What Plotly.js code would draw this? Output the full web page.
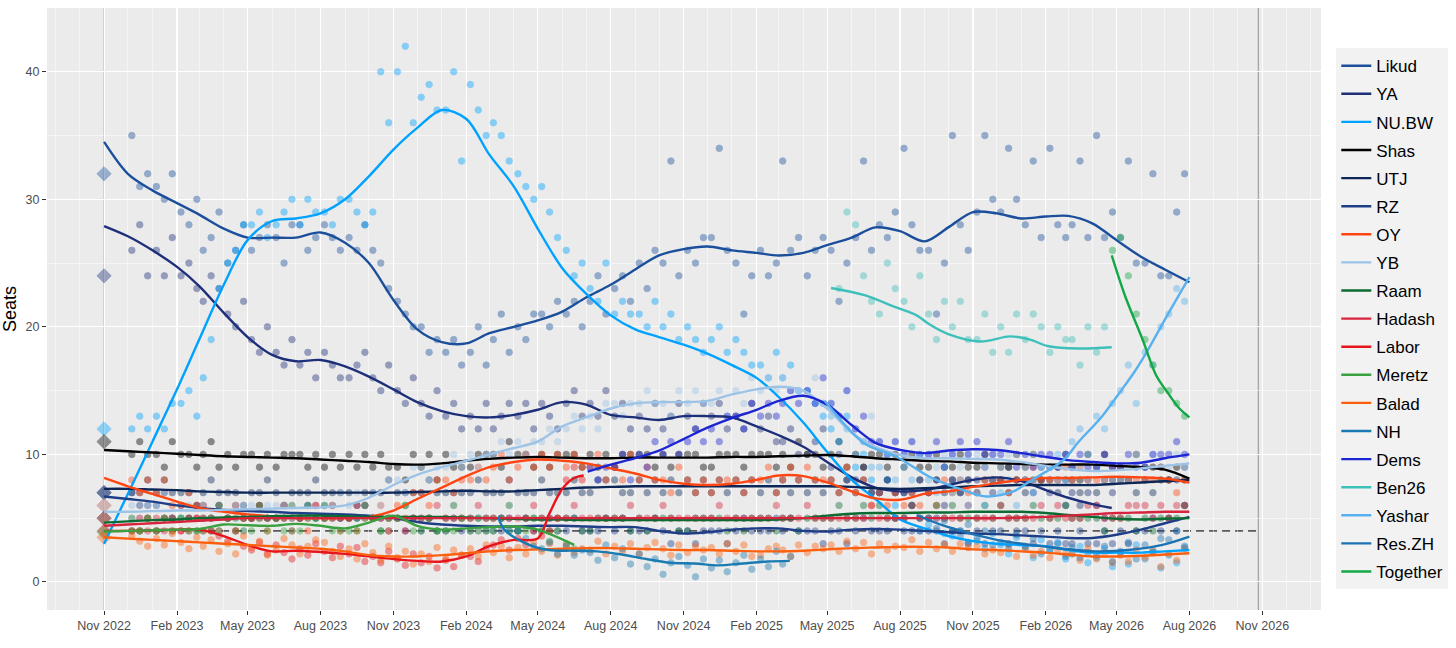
<!DOCTYPE html>
<html>
<head>
<meta charset="utf-8">
<script src="https://cdn.plot.ly/plotly-3.0.1.min.js"></script>
<style>
  html, body { margin: 0; padding: 0; background: #fff; }
  #chart { width: 1456px; height: 648px; }
</style>
</head>
<body>
<div id="chart"></div>
<script>
// month grid used by the trend lines (first of each month)
const months = [
  '2022-11', '2022-12',
  '2023-01', '2023-02', '2023-03', '2023-04', '2023-05', '2023-06',
  '2023-07', '2023-08', '2023-09', '2023-10', '2023-11', '2023-12',
  '2024-01', '2024-02', '2024-03', '2024-04', '2024-05', '2024-06',
  '2024-07', '2024-08', '2024-09', '2024-10', '2024-11', '2024-12',
  '2025-01', '2025-02', '2025-03', '2025-04', '2025-05', '2025-06',
  '2025-07', '2025-08', '2025-09', '2025-10', '2025-11', '2025-12',
  '2026-01', '2026-02', '2026-03', '2026-04', '2026-05', '2026-06',
  '2026-07', '2026-08',
];
const monthDates = months.map(m => m + '-01');
const pollDays = ['-06', '-16', '-26'];

// 2022 election result (diamonds)
const electionParties = ['Likud', 'YA', 'NU.BW', 'Shas', 'UTJ', 'RZ', 'OY', 'YB', 'Raam', 'Hadash', 'Labor', 'Meretz', 'Balad'];
const electionSeats = [32, 24, 12, 11, 7, 7, 6, 6, 5, 5, 4, 3.9, 3.5];

// smoothed trend lines
const likudLine = [34.5, 32.0, 30.7, 29.7, 28.8, 27.7, 27.0, 27.0, 27.0, 27.4,
  26.6, 25.0, 22.1, 19.8, 18.8, 18.7, 19.5, 20.0, 20.5, 21.2,
  22.3, 23.3, 24.5, 25.6, 26.1, 26.3, 26.0, 25.8, 25.6, 25.8,
  26.4, 27.0, 27.8, 27.5, 26.7, 27.8, 29.0, 28.9, 28.5, 28.65,
  28.7, 28.1, 26.8, 25.5, 24.5, 23.5];
const yaLine = [27.9, 27.1, 26.0, 24.7, 23.2, 21.1, 19.2, 17.8, 17.3, 17.4,
  16.9, 16.1, 15.1, 14.1, 13.4, 13.0, 12.9, 13.1, 13.5, 14.1,
  13.9, 13.1, 12.9, 12.7, 13.0, 13.0, 12.9, 12.2, 11.5, 10.6,
  9.4, 8.2, 7.4, 7.1, 7.2, 7.6, 8.0, 8.2, 7.9, 7.2,
  6.6, 6.1, 5.8];
const nuLine = [3.0, 6.9, 11.0, 15.1, 19.0, 23.3, 26.8, 28.3, 28.5, 28.9,
  30.0, 31.8, 33.9, 35.6, 37.0, 36.3, 33.5, 31.0, 27.7, 24.6,
  22.6, 20.9, 19.8, 19.2, 18.6, 17.9, 17.0, 16.0, 14.5, 12.5,
  10.2, 8.0, 6.5, 4.9, 4.2, 3.6, 3.2, 3.0, 2.9, 2.8,
  2.5, 2.3, 2.3, 2.3, 2.4, 2.5];
const shasLine = [10.35, 10.25, 10.15, 10.05, 9.95, 9.85, 9.8, 9.75, 9.7, 9.6,
  9.5, 9.4, 9.25, 9.2, 9.3, 9.5, 9.65, 9.75, 9.8, 9.75,
  9.7, 9.7, 9.75, 9.75, 9.75, 9.75, 9.8, 9.8, 9.85, 9.9,
  9.95, 9.85, 9.7, 9.6, 9.5, 9.45, 9.35, 9.3, 9.25, 9.2,
  9.2, 9.2, 9.1, 9.0, 8.8, 8.1];
const utjLine = [7.3, 7.3, 7.25, 7.2, 7.1, 7.05, 7.0, 7.0, 7.0, 7.0,
  7.0, 7.0, 7.0, 7.05, 7.1, 7.15, 7.1, 7.1, 7.2, 7.3,
  7.4, 7.45, 7.5, 7.5, 7.5, 7.5, 7.5, 7.5, 7.5, 7.5,
  7.5, 7.45, 7.35, 7.3, 7.35, 7.4, 7.5, 7.55, 7.6, 7.6,
  7.6, 7.6, 7.7, 7.8, 7.9, 8.0];
const rzLine = [6.7, 6.5, 6.3, 6.0, 5.8, 5.65, 5.55, 5.5, 5.4, 5.35,
  5.3, 5.2, 5.0, 4.7, 4.5, 4.4, 4.35, 4.35, 4.4, 4.4,
  4.35, 4.3, 4.3, 4.0, 3.8, 3.9, 4.1, 4.2, 4.2, 4.0,
  3.95, 4.1, 4.15, 4.1, 4.0, 3.9, 3.8, 3.75, 3.65, 3.55,
  3.45, 3.45, 3.7, 4.1, 4.6, 5.1];
const oyLine = [8.15, 7.5, 6.9, 6.3, 5.8, 5.5, 5.3, 5.15, 5.0, 5.0,
  5.0, 5.1, 5.6, 6.5, 7.4, 8.3, 9.0, 9.4, 9.6, 9.5,
  9.3, 8.9, 8.5, 8.0, 7.7, 7.6, 7.7, 8.0, 8.35, 8.3,
  7.8, 7.1, 6.55, 6.45, 6.9, 7.1, 7.45, 7.75, 8.0, 8.15,
  8.15, 8.2, 8.25, 8.2, 8.1, 7.8];
const ybLine = [5.5, 5.5, 5.55, 5.6, 5.6, 5.65, 5.7, 5.75, 5.8, 5.85,
  6.0, 6.6, 7.6, 8.4, 9.0, 9.5, 10.0, 10.5, 11.0, 12.2,
  12.9, 13.6, 14.0, 14.1, 14.1, 14.2, 14.7, 15.1, 15.3, 15.0,
  13.6, 11.7, 10.6, 9.95, 9.7, 9.7, 9.65, 9.6, 9.4, 9.1,
  8.85, 8.7, 8.75, 8.9, 9.1, 9.3];
const raamLine = [4.65, 4.75, 4.85, 4.9, 5.0, 5.05, 5.1, 5.15, 5.2, 5.2,
  5.15, 5.1, 5.1, 5.1, 5.1, 5.05, 5.0, 4.95, 4.9, 4.9,
  4.85, 4.85, 4.85, 4.85, 4.85, 4.85, 4.85, 4.85, 4.9, 5.0,
  5.2, 5.35, 5.4, 5.4, 5.45, 5.45, 5.5, 5.5, 5.5, 5.4,
  5.25, 5.1, 4.95, 4.9, 4.95, 5.0];
const hadashLine = [4.4, 4.5, 4.6, 4.7, 4.8, 4.9, 5.0, 5.0, 5.0, 5.0,
  5.0, 5.0, 5.0, 5.0, 5.0, 5.0, 5.0, 5.0, 5.0, 5.0,
  5.0, 5.0, 5.0, 5.0, 5.0, 5.0, 5.0, 5.0, 5.0, 5.0,
  5.0, 5.0, 5.0, 5.0, 5.0, 5.0, 5.0, 5.0, 5.05, 5.1,
  5.2, 5.3, 5.4, 5.45, 5.5, 5.5];
const laborLine = [4.0, 4.0, 4.05, 4.1, 4.1, 3.6, 2.9, 2.4, 2.45, 2.35,
  2.2, 2.0, 1.8, 1.65, 1.6, 2.0, 2.8, 3.3, 3.4, 5.4, 7.3, 8.15, 8.35];
const meretzLine = [3.95, 4.0, 4.05, 4.1, 4.15, 4.5, 4.45, 4.4, 4.55, 4.4,
  4.2, 4.65, 5.2, 4.4, 4.1, 4.2, 4.3, 4.35, 4.1, 2.9];
const baladLine = [3.5, 3.4, 3.3, 3.2, 3.1, 3.0, 2.9, 2.8, 2.7, 2.6,
  2.4, 2.1, 2.0, 2.0, 2.1, 2.25, 2.4, 2.5, 2.55, 2.6,
  2.65, 2.65, 2.6, 2.55, 2.5, 2.5, 2.45, 2.4, 2.4, 2.45,
  2.55, 2.65, 2.7, 2.75, 2.75, 2.7, 2.55, 2.5, 2.4, 2.3,
  2.15, 2.0, 2.0, 2.05, 2.15, 2.25];
const nhDates = ['2024-03-12', '2024-03-20', '2024-04-15', '2024-05-15', '2024-06-15', '2024-07-15',
  '2024-08-15', '2024-09-15', '2024-10-15', '2024-11-15', '2024-12-15', '2025-01-15',
  '2025-02-15', '2025-03-15'];
const nhLine = [5.1, 4.1, 3.05, 2.5, 2.45, 2.4, 2.15, 1.8, 1.5, 1.45, 1.3, 1.45, 1.6, 1.65];
const demsDates = ['2024-07-03', '2024-08-01', '2024-09-01', '2024-10-01', '2024-11-01', '2024-12-01',
  '2025-01-01', '2025-02-01', '2025-03-01', '2025-04-01', '2025-05-01', '2025-06-01',
  '2025-07-01', '2025-08-01', '2025-09-01', '2025-10-01', '2025-11-01', '2025-12-01',
  '2026-01-01', '2026-02-01', '2026-03-01', '2026-04-01', '2026-05-01', '2026-06-01',
  '2026-07-01', '2026-08-01'];
const demsLine = [8.65, 9.2, 9.7, 10.3, 11.2, 12.1, 12.85, 13.5, 14.2, 14.6, 13.9, 12.3,
  10.9, 10.35, 10.1, 10.3, 10.4, 10.35, 10.1, 9.8, 9.55, 9.4, 9.3, 9.35, 9.7, 10.0];
const ben26Dates = ['2025-05-06', '2025-06-16', '2025-07-28', '2025-08-22', '2025-09-07', '2025-09-30',
  '2025-11-10', '2025-12-18', '2026-01-12', '2026-02-03', '2026-03-15', '2026-04-25'];
const ben26Line = [23.05, 22.5, 21.5, 20.9, 20.2, 19.45, 18.85, 19.25, 19.0, 18.5, 18.3, 18.4];
const yasharDates = ['2025-04-28', '2025-06-16', '2025-07-28', '2025-09-07', '2025-10-20', '2025-11-18',
  '2025-12-22', '2026-01-12', '2026-02-24', '2026-03-13', '2026-04-13', '2026-05-08',
  '2026-05-24', '2026-06-07', '2026-07-05', '2026-08-01'];
const yasharLine = [14.2, 10.9, 9.8, 8.25, 7.2, 6.7, 7.1, 7.9, 9.6, 10.9, 13.0, 15.1, 16.5, 17.9, 21.0, 23.9];
const reszhDates = ['2025-08-22', '2025-09-28', '2025-12-01', '2026-02-03', '2026-04-04', '2026-05-16',
  '2026-06-28', '2026-08-01'];
const reszhLine = [5.25, 4.35, 3.3, 2.75, 2.4, 2.5, 2.9, 3.55];
const togetherDates = ['2026-04-25', '2026-05-12', '2026-06-03', '2026-06-20', '2026-07-05', '2026-07-18', '2026-08-01'];
const togetherLine = [25.6, 22.4, 19.0, 16.2, 14.8, 13.7, 12.9];

// polls: three per month, starting at the given month
const likudPolls = [[35, 31, 32], [31, 30, 32], [29, 28, 30], [26, 27, 29], [25, 26, 28], [26, 27, 28],
  [27, 25, 28], [28, 26, 27], [28, 27, 26], [27, 26, 28], [26, 25, 23], [22, 21, 20], [20, 18, 19],
  [18, 19, 17], [18, 20, 17], [19, 21, 18], [20, 19, 21], [21, 20, 22], [21, 22, 20], [22, 24, 21],
  [23, 24, 22], [25, 23, 26], [25, 33, 24], [26, 25, 27], [27, 34, 26], [25, 21, 24], [26, 24, 25],
  [33, 26, 27], [24, 26, 27], [26, 22, 25], [27, 33, 26], [28, 27, 29], [34, 28, 26], [26, 21, 25],
  [35, 28, 26], [29, 35, 30], [29, 34, 30], [28, 33, 27], [34, 28, 27], [28, 33, 27], [35, 27, 29],
  [27, 33, 25], [25, 32, 24], [24, 29, 32]];
const yaPolls = [[26, 28, 24], [26, 24, 27], [24, 25, 23], [22, 24, 23], [21, 20, 22], [19, 18, 20],
  [18, 17, 19], [17, 18, 16], [18, 17, 16], [16, 17, 18], [16, 15, 17], [15, 14, 16], [14, 13, 15],
  [13, 14, 12], [13, 12, 14], [12, 13, 14], [13, 14, 12], [14, 13, 12], [14, 15, 13], [14, 13, 15],
  [13, 14, 12], [13, 12, 14], [12, 13, 14], [13, 12, 14], [13, 14, 12], [13, 12, 14], [12, 13, 11],
  [11, 12, 10], [10, 11, 12], [9, 10, 8], [8, 9, 7], [7, 8, 7], [7, 6, 8], [7, 8, 6], [8, 7, 8],
  [8, 9, 7], [8, 9, 8], [8, 7, 9], [7, 8, 6], [7, 6, 7], [6, 5, 7]];
const nuPolls = [[12, 13, 12], [13, 12, 14], [14, 15, 13], [16, 19, 23], [25, 26, 28], [28, 29, 27],
  [28, 29, 30], [28, 30, 29], [29, 28, 30], [30, 29, 28], [29, 40, 36], [40, 42, 36], [38, 39, 37],
  [37, 40, 33], [39, 37, 35], [36, 35, 33], [32, 31, 30], [31, 29, 27], [26, 24, 25], [23, 22, 25],
  [21, 22, 21], [21, 20, 22], [20, 21, 19], [20, 19, 18], [19, 20, 18], [19, 18, 17], [17, 16, 18],
  [16, 17, 15], [15, 14, 13], [12, 11, 13], [9, 10, 8], [7, 8, 6], [5, 6, 4], [4.5, 5, 3.8],
  [3.6, 4, 3.1], [3.2, 2.6, 3.8], [2.9, 2.2, 3.5], [2.7, 1.9, 3.3], [2.5, 3.1, 1.8], [2.2, 2.8, 1.5],
  [1.9, 2.6, 1.2], [2.3, 1.4, 2.9], [1.8, 2.5, 1.1], [2.1, 1.5, 2.7]];
const shasPolls = [[10, 11, 10], [10, 9, 11], [10, 10, 9], [10, 11, 9], [10, 9, 10], [10, 9, 10],
  [9, 10, 10], [10, 9, 10], [9, 10, 9], [10, 9, 10], [9, 10, 9], [9, 8, 10], [9, 10, 8], [10, 9, 9],
  [9, 10, 10], [10, 9, 11], [10, 10, 9], [10, 9, 10], [10, 10, 9], [10, 9, 10], [9, 10, 10],
  [10, 10, 9], [10, 9, 10], [10, 10, 9], [9, 10, 10], [10, 9, 10], [10, 10, 9], [10, 9, 11],
  [10, 10, 9], [10, 11, 9], [10, 9, 10], [10, 9, 10], [9, 10, 9], [9, 10, 9], [9, 10, 9], [9, 10, 8],
  [9, 9, 10], [9, 10, 8], [9, 9, 10], [9, 8, 10], [9, 10, 9], [9, 8, 10], [9, 9, 8], [8, 9, 8]];
const utjPolls = [[7, 7, 8], [7, 8, 7], [7, 7, 6], [7, 8, 7], [7, 7, 6], [7, 7, 8], [7, 6, 7],
  [7, 7, 8], [7, 7, 7], [7, 6, 7], [7, 7, 8], [7, 7, 7], [7, 8, 7], [7, 7, 7], [7, 8, 7], [7, 7, 8],
  [7, 7, 7], [8, 7, 7], [7, 8, 7], [7, 8, 8], [8, 7, 7], [8, 7, 8], [7, 8, 7], [8, 7, 8], [7, 8, 7],
  [8, 7, 8], [7, 8, 7], [8, 7, 8], [7, 8, 7], [8, 7, 8], [7, 8, 7], [7, 8, 7], [7, 7, 8], [7, 8, 7],
  [8, 7, 8], [7, 8, 8], [8, 7, 8], [7, 8, 8], [8, 7, 8], [8, 7, 8], [7, 8, 8], [8, 8, 7], [8, 7, 9],
  [8, 8, 9]];
const rzPolls = [[7, 6, 6], [6, 7, 5], [6, 5, 6], [6, 5, 6], [5, 6, 5], [5, 6, 5], [5, 6, 5],
  [5, 6, 5], [5, 6, 5], [5, 5, 6], [5, 5, 4], [5, 4, 5], [4, 5, 4], [4, 5, 4], [4, 5, 4], [4, 4, 5],
  [4, 5, 4], [4, 5, 4], [4, 5, 4], [4, 4, 5], [4, 5, 4], [4, 4, 5], [4, 3, 4], [4, 3, 4], [4, 4, 3],
  [4, 5, 4], [4, 4, 5], [4, 5, 4], [4, 4, 3], [4, 4, 3], [4, 5, 4], [4, 4, 5], [4, 4, 4], [4, 4, 3],
  [4, 4, 3], [4, 3, 4], [4, 3, 4], [4, 3, 4], [3, 4, 3], [3, 4, 3], [3, 4, 3], [4, 3, 4], [4, 5, 4],
  [5, 4, 6]];
const oyPolls = [[8, 7, 8], [7, 8, 6], [6, 7, 6], [6, 5, 6], [5, 6, 5], [5, 6, 4], [5, 6, 5],
  [5, 4, 6], [5, 6, 4], [5, 4, 6], [5, 6, 4], [6, 5, 7], [7, 6, 8], [8, 7, 8], [8, 9, 8], [9, 10, 8],
  [9, 10, 9], [10, 9, 10], [9, 10, 9], [9, 10, 8], [9, 8, 10], [8, 9, 8], [8, 7, 9], [8, 7, 8],
  [7, 8, 8], [8, 7, 8], [8, 9, 7], [8, 9, 8], [9, 8, 8], [8, 7, 9], [7, 8, 6], [7, 6, 7], [6, 7, 6],
  [7, 6, 8], [7, 8, 7], [7, 8, 8], [8, 7, 8], [8, 9, 8], [8, 8, 9], [8, 9, 8], [8, 8, 9], [9, 8, 8],
  [8, 8, 9], [8, 7, 8]];
const ybPolls = [[6, 5, 6], [6, 5, 5], [5, 6, 5], [6, 5, 6], [5, 6, 6], [6, 5, 6], [6, 6, 5],
  [5, 6, 6], [6, 6, 7], [6, 7, 6], [7, 6, 8], [8, 7, 9], [9, 8, 9], [9, 10, 9], [10, 9, 10],
  [10, 11, 10], [11, 10, 11], [11, 12, 11], [12, 13, 12], [13, 12, 14], [14, 13, 14], [14, 15, 14],
  [14, 13, 15], [14, 15, 14], [14, 15, 13], [15, 14, 16], [15, 16, 15], [16, 15, 15], [15, 16, 14],
  [14, 13, 15], [12, 11, 13], [11, 10, 11], [10, 11, 10], [10, 9, 10], [10, 9, 10], [10, 9, 10],
  [9, 10, 10], [9, 10, 9], [9, 8, 10], [9, 9, 8], [9, 8, 9], [9, 8, 10], [9, 10, 9], [9, 10, 9]];
const raamPolls = [[5, 4, 5], [4, 5, 5], [5, 5, 4], [5, 4, 6], [5, 5, 4], [5, 6, 5], [5, 5, 6],
  [5, 6, 5], [6, 5, 5], [5, 5, 6], [5, 4, 5], [5, 6, 5], [5, 5, 4], [5, 6, 5], [5, 4, 5], [5, 5, 6],
  [4, 5, 5], [5, 4, 5], [5, 5, 4], [4, 5, 5], [5, 5, 4], [5, 4, 5], [5, 5, 4], [4, 5, 5], [5, 5, 4],
  [5, 4, 5], [5, 5, 4], [5, 5, 4], [5, 5, 5], [5, 6, 5], [5, 6, 5], [6, 5, 5], [5, 6, 5], [5, 6, 5],
  [6, 5, 5], [5, 6, 5], [6, 5, 5], [5, 6, 5], [5, 5, 6], [5, 5, 5], [5, 4, 5], [5, 5, 4], [5, 4, 5],
  [5, 5, 6]];
const hadashPolls = [[4, 5, 4], [5, 4, 5], [4, 5, 5], [5, 5, 4], [5, 4, 5], [5, 5, 5], [5, 5, 4],
  [5, 5, 6], [5, 5, 5], [5, 6, 5], [5, 5, 5], [5, 4, 5], [5, 5, 6], [5, 5, 5], [5, 6, 5], [5, 5, 5],
  [5, 5, 6], [5, 5, 5], [5, 6, 5], [5, 5, 5], [5, 5, 6], [5, 5, 5], [6, 5, 5], [5, 5, 5], [5, 6, 5],
  [5, 5, 5], [5, 5, 6], [5, 5, 5], [6, 5, 5], [5, 5, 5], [5, 5, 6], [5, 5, 5], [5, 6, 5], [5, 5, 5],
  [5, 5, 6], [5, 5, 5], [6, 5, 5], [5, 5, 6], [5, 6, 5], [5, 5, 6], [6, 5, 5], [5, 6, 6], [6, 5, 6],
  [5, 6, 6]];
const laborPolls = [[4, 4, 5], [4, 5, 4], [4, 4, 5], [4, 4, 3.6], [3.2, 4, 2.8], [2.5, 3.1, 2.2],
  [2.9, 2.3, 1.8], [2.6, 2.1, 3.0], [2.4, 1.9, 2.8], [2.2, 2.7, 1.6], [2.0, 1.5, 2.4], [1.8, 1.3, 2.2],
  [1.5, 2.0, 1.1], [1.7, 1.2, 2.1], [2.0, 1.6, 2.6], [2.9, 3.3, 2.5], [3.4, 2.9, 4], [3.6, 4, 5],
  [8, 9, 8]];
const meretzPolls = [[4, 4, 5], [4, 5, 4], [5, 4, 4], [4, 5, 4], [5, 4, 5], [4, 5, 4], [5, 4, 4],
  [4, 5, 5], [5, 4, 4], [4, 4, 5], [5, 4, 5], [5, 6, 4], [4, 5, 4], [4, 4, 5], [4, 5, 4], [4, 5, 4],
  [4, 4, 5], [4, 3.2, 4], [3.0, 2.6, null]];
const baladPolls = [[3.6, 3.2, 2.8], [3.4, 2.9, 3.8], [3.1, 2.6, 3.5], [2.8, 3.3, 2.4], [3.0, 2.2, 3.6],
  [2.7, 3.2, 2.1], [2.5, 3.4, 2.9], [2.2, 2.8, 3.3], [3.1, 2.4, 2.0], [2.6, 1.8, 3.0], [2.3, 1.7, 2.8],
  [1.9, 2.4, 1.4], [2.2, 1.6, 2.7], [1.8, 2.5, 2.1], [2.6, 2.0, 2.9], [2.3, 2.8, 1.9], [2.7, 2.2, 3.1],
  [2.4, 3.0, 2.1], [2.9, 2.3, 2.6], [2.5, 3.2, 2.2], [2.8, 2.4, 3.0], [2.2, 2.7, 3.1], [2.6, 2.1, 2.9],
  [2.3, 2.8, 2.5], [2.7, 2.2, 3.0], [2.4, 2.9, 2.0], [2.1, 2.6, 2.8], [2.5, 2.0, 2.9], [2.3, 2.8, 2.6],
  [2.9, 2.4, 3.2], [2.6, 3.1, 2.2], [3.0, 2.5, 2.8], [2.7, 3.3, 2.4], [3.1, 2.6, 2.9], [2.4, 3.0, 2.7],
  [2.8, 2.2, 2.5], [2.3, 2.9, 2.0], [2.6, 2.1, 2.4], [1.9, 2.5, 2.2], [2.2, 1.7, 2.6], [1.8, 2.3, 1.5],
  [2.1, 1.6, 2.5], [1.9, 2.4, 1.2], [2.2, 1.7, 2.6]];
const nhPolls = [[null, 5, 4], [4, 3.4, 2.8], [2.6, 3.1, 2.2], [2.8, 2.1, 2.5], [2.3, 1.7, 2.9],
  [1.9, 2.6, 1.4], [2.2, 1.2, 1.8], [0.6, 1.5, 2.0], [1.3, 0.4, 1.8], [1.1, 1.7, 0.8], [1.5, 2.1, 1.0],
  [1.8, 1.2, 2.4], [1.4, 2.0, null]];
const demsPolls = [[9, 8, 9], [9, 10, 8], [10, 9, 11], [10, 11, 10], [11, 12, 11], [12, 11, 13],
  [13, 12, 14], [13, 14, 13], [14, 15, 14], [15, 14, 16], [14, 13, 15], [12, 13, 11], [11, 10, 11],
  [10, 11, 10], [10, 11, 9], [10, 11, 10], [11, 10, 10], [10, 11, 9], [10, 9, 10], [10, 9, 10],
  [9, 10, 9], [9, 10, 9], [9, 10, 9], [9, 10, 10], [10, 11, 10]];
const ben26Polls = [[null, 23, 29], [28, 24, 22], [21, 25, 23], [22, 20, 24], [21, 19, 22], [20, 22, 19],
  [19, 21, 18], [20, 18, 21], [19, 21, 20], [18, 20, 19], [19, 17, 20], [18, 20, null]];
const yasharPolls = [[null, null, 14], [13, 11, 12], [10, 11, 9], [9, 10, 8], [9, 8, 10], [8, 7, 9],
  [7, 8, 6], [7, 6, 8], [7, 8, 6], [8, 7, 9], [9, 10, 8], [11, 12, 10], [13, 12, 14], [15, 17, 14],
  [18, 17, 20], [21, 23, 22]];
const reszhPolls = [[null, null, 5], [5, 4.2, 4.8], [4, 3.6, 4.5], [3.4, 4, 2.9], [3.1, 2.6, 3.7],
  [2.8, 3.4, 2.2], [2.5, 3.0, 2.0], [2.7, 1.9, 2.3], [2.1, 2.8, 1.6], [2.4, 3.1, 1.8], [2.9, 2.3, 3.4],
  [3.3, 4, 2.8]];
const togetherPolls = [[null, null, 26], [27, 24, 21], [19, 17, 15], [15, 14, 13]];

const series = [
  { name: 'Likud', color: '#1B4F9C', x: monthDates, y: likudLine, polls: likudPolls, from: '2022-12' },
  { name: 'YA', color: '#1E2F7A', x: monthDates.slice(0, 42).concat(['2026-04-25']), y: yaLine, polls: yaPolls, from: '2022-12' },
  { name: 'NU.BW', color: '#00A2FF', x: monthDates, y: nuLine, polls: nuPolls, from: '2022-12' },
  { name: 'Shas', color: '#000000', x: monthDates, y: shasLine, polls: shasPolls, from: '2022-12' },
  { name: 'UTJ', color: '#0C2757', x: monthDates, y: utjLine, polls: utjPolls, from: '2022-12' },
  { name: 'RZ', color: '#1F3E88', x: monthDates, y: rzLine, polls: rzPolls, from: '2022-12' },
  { name: 'OY', color: '#FF4612', x: monthDates, y: oyLine, polls: oyPolls, from: '2022-12' },
  { name: 'YB', color: '#9DC3E6', x: monthDates, y: ybLine, polls: ybPolls, from: '2022-12' },
  { name: 'Raam', color: '#0C6B32', x: monthDates, y: raamLine, polls: raamPolls, from: '2022-12' },
  { name: 'Hadash', color: '#D7243C', x: monthDates, y: hadashLine, polls: hadashPolls, from: '2022-12' },
  { name: 'Labor', color: '#E8141B', x: monthDates.slice(0, 19).concat(['2024-05-16', '2024-06-01', '2024-06-16', '2024-06-28']), y: laborLine, polls: laborPolls, from: '2022-12' },
  { name: 'Meretz', color: '#3AA040', x: monthDates.slice(0, 19).concat(['2024-06-16']), y: meretzLine, polls: meretzPolls, from: '2022-12' },
  { name: 'Balad', color: '#FC600E', x: monthDates, y: baladLine, polls: baladPolls, from: '2022-12' },
  { name: 'NH', color: '#1A7AB2', x: nhDates, y: nhLine, polls: nhPolls, from: '2024-03' },
  { name: 'Dems', color: '#1B25D2', x: demsDates, y: demsLine, polls: demsPolls, from: '2024-07' },
  { name: 'Ben26', color: '#3DC0BA', x: ben26Dates, y: ben26Line, polls: ben26Polls, from: '2025-05' },
  { name: 'Yashar', color: '#58B1EF', x: yasharDates, y: yasharLine, polls: yasharPolls, from: '2025-04' },
  { name: 'Res.ZH', color: '#1B73B3', x: reszhDates, y: reszhLine, polls: reszhPolls, from: '2025-08' },
  { name: 'Together', color: '#12A845', x: togetherDates, y: togetherLine, polls: togetherPolls, from: '2026-04' },
];

function pollPoints(triples, firstMonth) {
  const start = months.indexOf(firstMonth);
  const x = [];
  const y = [];
  triples.forEach((trip, k) => {
    trip.forEach((v, j) => {
      if (v === null) return;
      x.push(months[start + k] + pollDays[j]);
      y.push(v);
    });
  });
  return { x, y };
}

const colorOf = {};
series.forEach(s => { colorOf[s.name] = s.color; });

const traces = [];

// poll dots first, lines on top
series.forEach(s => {
  const pts = pollPoints(s.polls, s.from);
  traces.push({
    type: 'scatter',
    mode: 'markers',
    x: pts.x,
    y: pts.y,
    legendgroup: s.name,
    showlegend: false,
    hoverinfo: 'skip',
    marker: { size: 6.5, color: s.color, opacity: 0.42, line: { width: 0.9, color: s.color } },
  });
});

traces.push({
  type: 'scatter',
  mode: 'markers',
  x: electionParties.map(() => '2022-11-01'),
  y: electionSeats,
  showlegend: false,
  hoverinfo: 'skip',
  marker: {
    symbol: 'diamond',
    size: 11,
    color: electionParties.map(p => colorOf[p]),
    opacity: 0.4,
    line: { width: 1, color: electionParties.map(p => colorOf[p]) },
  },
});

series.forEach(s => {
  traces.push({
    type: 'scatter',
    mode: 'lines',
    name: s.name,
    x: s.x,
    y: s.y,
    legendgroup: s.name,
    hoverinfo: 'skip',
    line: { color: s.color, width: 2.4, shape: 'spline', smoothing: 0.9 },
  });
});

const fontFamily = '"Liberation Sans", Arial, sans-serif';

const layout = {
  width: 1456,
  height: 648,
  margin: { l: 47, r: 131, t: 8, b: 38 },
  paper_bgcolor: '#FFFFFF',
  plot_bgcolor: '#EBEBEB',
  font: { family: fontFamily, color: '#000' },
  hovermode: false,
  xaxis: {
    type: 'date',
    range: ['2022-08-21', '2027-01-14'],
    tick0: '2022-11-01',
    dtick: 'M3',
    tickformat: '%b %Y',
    ticks: 'outside',
    ticklen: 4,
    tickcolor: '#333333',
    tickfont: { size: 12.5, color: '#4D4D4D' },
    showgrid: true,
    gridcolor: '#FFFFFF',
    gridwidth: 1.1,
    zeroline: false,
    showline: false,
    minor: { tick0: '2022-11-01', dtick: 'M1', showgrid: true, gridcolor: '#FFFFFF', gridwidth: 0.5, ticks: '' },
  },
  yaxis: {
    range: [-2.2, 45.0],
    tick0: 0,
    dtick: 10,
    ticks: 'outside',
    ticklen: 4,
    tickcolor: '#333333',
    tickfont: { size: 12.5, color: '#4D4D4D' },
    showgrid: true,
    gridcolor: '#FFFFFF',
    gridwidth: 1.1,
    zeroline: false,
    showline: false,
    minor: { dtick: 5, showgrid: true, gridcolor: '#FFFFFF', gridwidth: 0.5, ticks: '' },
    title: { text: 'Seats', font: { size: 18, color: '#000' }, standoff: 8 },
  },
  legend: {
    x: 1.012,
    xanchor: 'left',
    y: 0.484,
    yanchor: 'middle',
    bgcolor: '#F2F2F2',
    font: { size: 17, color: '#000', family: fontFamily },
    traceorder: 'grouped',
    tracegroupgap: 3,
    itemwidth: 30,
  },
  shapes: [
    { type: 'line', layer: 'below', xref: 'x', yref: 'paper', x0: '2022-11-01', x1: '2022-11-01', y0: 0, y1: 1,
      line: { color: '#AFAFAF', width: 1 } },
    { type: 'line', layer: 'below', xref: 'x', yref: 'paper', x0: '2026-10-27', x1: '2026-10-27', y0: 0, y1: 1,
      line: { color: '#A5A5A5', width: 1.3 } },
    { type: 'line', layer: 'below', xref: 'x', yref: 'y', x0: '2022-11-01', x1: '2026-10-27', y0: 4, y1: 4,
      line: { color: '#5A5A5A', width: 1.6, dash: '8px,5px' } },
  ],
};

Plotly.newPlot('chart', traces, layout, { displayModeBar: false, staticPlot: true });
</script>
</body>
</html>
